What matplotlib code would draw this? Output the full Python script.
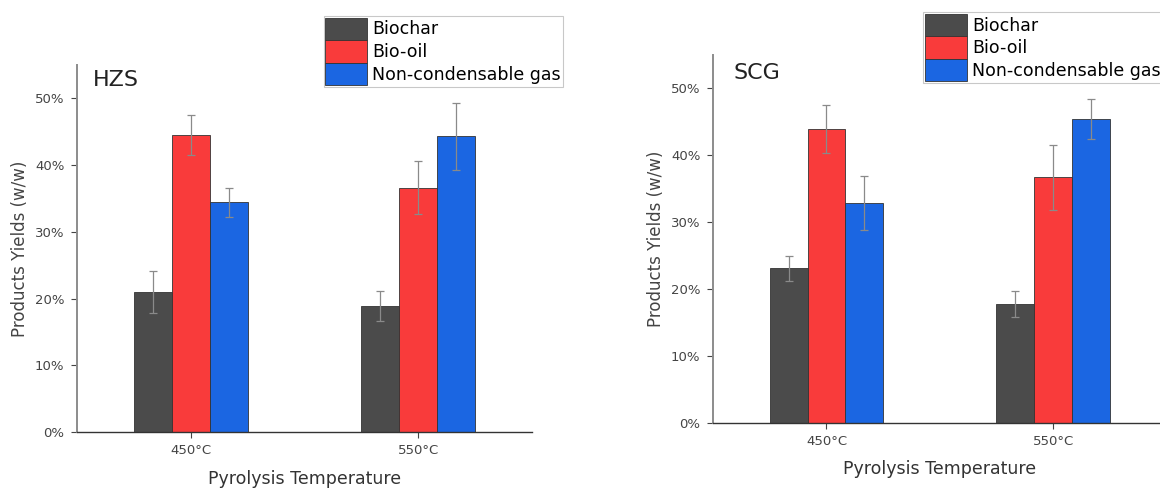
import matplotlib.pyplot as plt
import numpy as np

# Data
temps = ['450°C', '550°C']
products = ['Biochar', 'Bio-oil', 'Non-condensable gas']
colors = ['#4b4b4b', '#f93b3b', '#1b66e2']

hzs_vals = [[0.210, 0.189], [0.445, 0.366], [0.344, 0.443]]
hzs_errs = [[0.031, 0.023], [0.030, 0.040], [0.022, 0.050]]

scg_vals = [[0.231, 0.178], [0.440, 0.367], [0.329, 0.455]]
scg_errs = [[0.019, 0.019], [0.036, 0.049], [0.040, 0.030]]

plt.rcParams['font.family'] = ['DejaVu Sans']

fig = plt.figure(figsize=(11.6, 4.88), dpi=100)
ax1 = fig.add_axes([0.0664, 0.1148, 0.392, 0.752])
ax2 = fig.add_axes([0.6147, 0.1332, 0.391, 0.754])

width = 0.167
x = np.arange(len(temps))

def draw_panel(ax, vals, errs, name, name_xy, xlab_pad):
    for i in range(len(products)):
        ax.bar(x + (i - 1) * width, vals[i], width, color=colors[i],
               edgecolor='#333333', linewidth=0.6, label=products[i],
               yerr=errs[i], ecolor='#8a8a8a',
               error_kw={'elinewidth': 0.9, 'capsize': 3, 'capthick': 0.9})
    ax.set_xlim(-0.5, 1.5)
    ax.set_ylim(0, 0.55)
    ax.set_yticks([0, 0.1, 0.2, 0.3, 0.4, 0.5])
    ax.set_yticklabels(['0%', '10%', '20%', '30%', '40%', '50%'])
    ax.set_xticks(x)
    ax.set_xticklabels(temps)
    ax.tick_params(axis='both', labelsize=9.5, colors='#444444', length=4, width=0.8)
    ax.tick_params(axis='x', pad=4.5)
    ax.tick_params(axis='y', pad=5)
    ax.spines['top'].set_visible(False)
    ax.spines['right'].set_visible(False)
    ax.spines['left'].set_color('#8c8c8c')
    ax.spines['left'].set_linewidth(1.4)
    ax.spines['bottom'].set_color('#333333')
    ax.spines['bottom'].set_linewidth(1.0)
    ax.set_ylabel('Products Yields (w/w)', fontsize=12, color='#444444', labelpad=4)
    ax.set_xlabel('Pyrolysis Temperature', fontsize=12.5, color='#333333', labelpad=xlab_pad)
    ax.text(name_xy[0], name_xy[1], name, transform=ax.transAxes, fontsize=16,
            color='#222222', va='center', ha='left')

draw_panel(ax1, hzs_vals, hzs_errs, 'HZS', (0.035, 0.959), 9.5)
draw_panel(ax2, scg_vals, scg_errs, 'SCG', (0.046, 0.95), 8.5)

leg_kw = dict(loc='lower left', fontsize=12.5, frameon=True, fancybox=False,
              edgecolor='#bbbbbb', handlelength=2.4, handleheight=1.62,
              labelspacing=0.0, handletextpad=0.3, borderpad=0.1,
              borderaxespad=0)
h, l = ax1.get_legend_handles_labels()
leg1 = fig.legend(h, l, bbox_to_anchor=(0.279, 0.822), **leg_kw)
leg2 = fig.legend(h, l, bbox_to_anchor=(0.796, 0.830), **leg_kw)
for leg in (leg1, leg2):
    leg.get_frame().set_linewidth(0.8)
    for patch in leg.get_patches():
        patch.set_linewidth(0.6)

plt.savefig('out.png', dpi=100)
